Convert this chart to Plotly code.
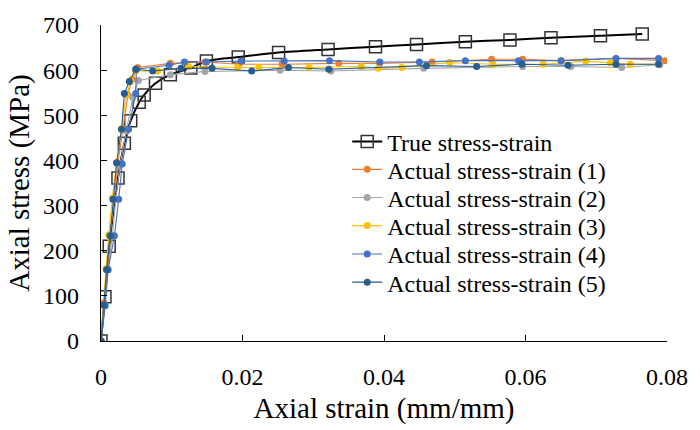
import plotly.graph_objects as go

# True stress-strain
true_strain = [0, 0.00056, 0.00116, 0.0024, 0.0033, 0.0042, 0.0054, 0.0061, 0.0077, 0.0098,
               0.0127, 0.0149, 0.0194, 0.0251, 0.0321, 0.0388, 0.0446, 0.0515, 0.0578, 0.0636,
               0.0706, 0.0765]
true_stress = [0, 98, 210, 361, 438, 488, 529, 545, 571, 590,
               605, 620, 629, 639, 646, 652, 657, 663, 667, 672,
               676, 680]

# Actual stress-strain (1)
s1_strain = [0, 0.0004, 0.0009, 0.0013, 0.0019, 0.0024, 0.0031, 0.0038, 0.0044, 0.0052,
             0.0098, 0.0147, 0.0195, 0.0256, 0.0336, 0.0394, 0.0468, 0.0552, 0.0596, 0.0651,
             0.0728, 0.0797]
s1_stress = [0, 85, 160, 235, 315, 395, 470, 545, 580, 606,
             615, 618, 613, 613, 615, 615, 618, 624, 624, 621,
             626, 621]

# Actual stress-strain (2)
s2_strain = [0, 0.0005, 0.001, 0.0016, 0.0021, 0.0027, 0.0036, 0.0045, 0.0053, 0.0098,
             0.0147, 0.0253, 0.0325, 0.0456, 0.0596, 0.0664, 0.0736, 0.079]
s2_stress = [0, 80, 158, 233, 314, 392, 465, 540, 577, 590,
             597, 600, 598, 604, 608, 608, 606, 612]

# Actual stress-strain (3)
s3_strain = [0, 0.0003, 0.0007, 0.0011, 0.0016, 0.0022, 0.0029, 0.0036, 0.0042, 0.0049,
             0.008, 0.0124, 0.0193, 0.0223, 0.0294, 0.0368, 0.0392, 0.0425, 0.0493, 0.0554,
             0.0625, 0.0685, 0.072, 0.0748, 0.0788]
s3_stress = [0, 80, 160, 235, 316, 395, 470, 545, 575, 598,
             598, 608, 606, 606, 606, 608, 604, 606, 617, 613,
             613, 620, 616, 613, 613]

# Actual stress-strain (4)
s4_strain = [0, 0.0006, 0.001, 0.0019, 0.0025, 0.003, 0.0039, 0.0049, 0.005, 0.0096,
             0.0118, 0.0149, 0.0198, 0.0259, 0.0323, 0.0394, 0.045, 0.0515, 0.059, 0.065,
             0.0728, 0.0788]
s4_stress = [0, 78, 158, 233, 314, 392, 469, 548, 602, 611,
             618, 618, 620, 620, 621, 618, 618, 621, 621, 621,
             626, 626]

# Actual stress-strain (5)
s5_strain = [0, 0.0004, 0.0008, 0.0013, 0.0017, 0.0022, 0.0029, 0.0033, 0.004, 0.0049,
             0.0073, 0.0113, 0.0157, 0.0213, 0.0265, 0.0322, 0.046, 0.0531, 0.0595, 0.066,
             0.0728, 0.0788]
s5_stress = [0, 80, 158, 233, 314, 395, 469, 548, 575, 602,
             598, 604, 604, 598, 606, 602, 610, 608, 613, 611,
             613, 613]

x_ticks = [0, 0.02, 0.04, 0.06, 0.08]
x_tick_labels = ["0", "0.02", "0.04", "0.06", "0.08"]
y_ticks = [0, 100, 200, 300, 400, 500, 600, 700]

names = ["Actual stress-strain (1)", "Actual stress-strain (2)", "Actual stress-strain (3)",
         "Actual stress-strain (4)", "Actual stress-strain (5)"]
colors = ["#ED7D31", "#A5A5A5", "#FFC000", "#4472C4", "#255E91"]
series = [(s1_strain, s1_stress), (s2_strain, s2_stress), (s3_strain, s3_stress),
          (s4_strain, s4_stress), (s5_strain, s5_stress)]

legend_ids = ["legend", "legend2", "legend3", "legend4", "legend5", "legend6"]
legend_rows = [0.630, 0.542, 0.453, 0.364, 0.274, 0.185]

font_family = "'Times New Roman', 'Liberation Serif', 'DejaVu Serif', serif"

fig = go.Figure()
fig.add_trace(go.Scatter(
    x=true_strain, y=true_stress, name="True stress-strain",
    mode="lines+markers", legend=legend_ids[0],
    line=dict(color="black", width=2, shape="spline", smoothing=0.8),
    marker=dict(symbol="square-open", size=12, color="#333333", line=dict(width=1.5)),
))
for i, ((xs, ys), nm, c) in enumerate(zip(series, names, colors)):
    fig.add_trace(go.Scatter(
        x=xs, y=ys, name=nm, mode="lines+markers", legend=legend_ids[i + 1],
        line=dict(color=c, width=1.1),
        marker=dict(symbol="circle", size=7, color=c),
    ))

legend_common = dict(x=0.435, xanchor="left", yanchor="middle",
                     bgcolor="rgba(0,0,0,0)", font=dict(family=font_family, size=24),
                     itemwidth=30)
layout_legends = {}
for lid, ly in zip(legend_ids, legend_rows):
    layout_legends[lid] = dict(legend_common, y=ly)

fig.update_layout(
    width=700, height=430,
    margin=dict(l=101, r=23, t=19, b=87),
    paper_bgcolor="white", plot_bgcolor="white",
    font=dict(family=font_family, size=24, color="black"),
    showlegend=True,
    **layout_legends,
)
fig.update_xaxes(
    range=[0, 0.08], tickvals=x_ticks, ticktext=x_tick_labels,
    showline=True, linecolor="black", linewidth=1.2, mirror=False,
    ticks="inside", ticklen=6, tickcolor="black", tickwidth=1.2,
    ticklabelstandoff=14,
    showgrid=False, zeroline=False,
    title=dict(text="Axial strain (mm/mm)", standoff=8),
)
fig.update_yaxes(
    range=[0, 700], tickvals=y_ticks,
    showline=True, linecolor="black", linewidth=1.2,
    ticks="inside", ticklen=6, tickcolor="black", tickwidth=1.2,
    ticklabelstandoff=16,
    showgrid=False, zeroline=False,
    title=dict(text="Axial stress (MPa)", standoff=4),
)

fig.write_html("out.html")
